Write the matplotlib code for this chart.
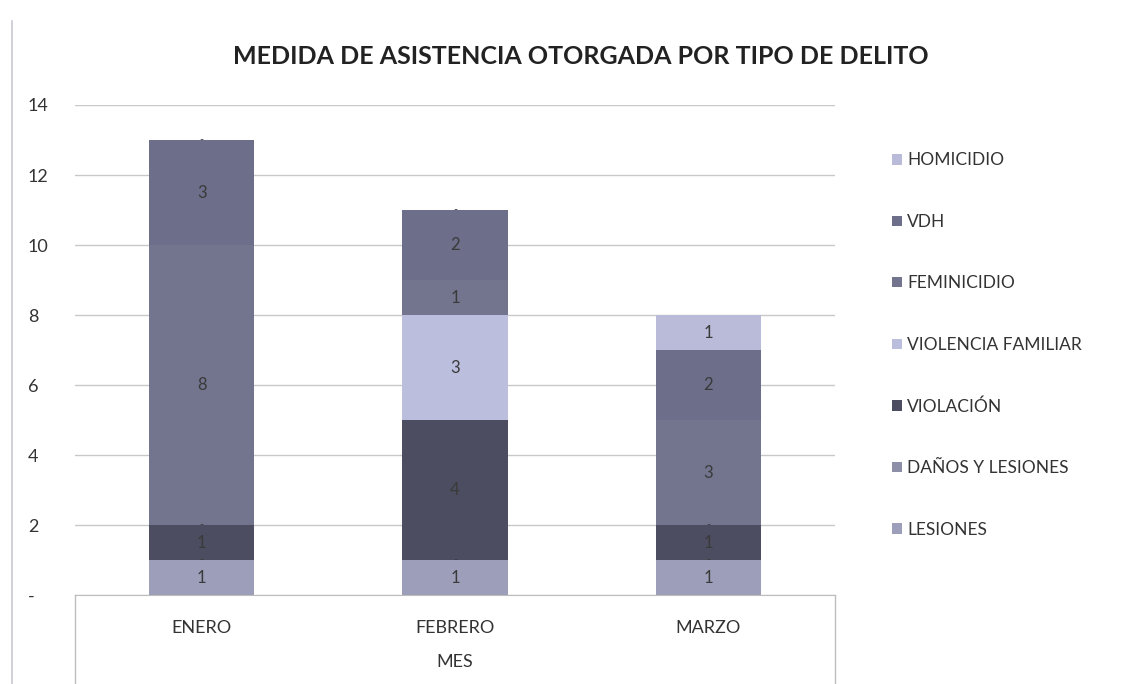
import numpy as np
import matplotlib.pyplot as plt
from matplotlib.patches import Patch
from matplotlib.lines import Line2D

plt.rcParams['font.family'] = ['Lato', 'DejaVu Sans']

meses = ['ENERO', 'FEBRERO', 'MARZO']
delitos = ['LESIONES', 'DAÑOS Y LESIONES', 'VIOLACIÓN', 'VIOLENCIA FAMILIAR',
           'FEMINICIDIO', 'VDH', 'HOMICIDIO']
lesiones = [1, 1, 1]
danos_lesiones = [0, 0, 0]
violacion = [1, 4, 1]
violencia_familiar = [0, 3, 0]
feminicidio = [8, 1, 3]
vdh = [3, 2, 2]
homicidio = [0, 0, 1]

series = [lesiones, danos_lesiones, violacion, violencia_familiar,
          feminicidio, vdh, homicidio]
colores = ['#9c9eba', '#8d8fa8', '#4c4d60', '#bcbedd',
           '#73758f', '#6c6e8a', '#b9bbd8']

fig = plt.figure(figsize=(11.27, 6.84), dpi=100)
ax = fig.add_axes([0.0665, 0.130, 0.6745, 0.7165])

x = np.arange(len(meses))
base = np.zeros(len(meses))
for vals, col in zip(series, colores):
    vals = np.array(vals, dtype=float)
    ax.bar(x, vals, width=0.415, bottom=base, color=col, zorder=2)
    for i, v in enumerate(vals):
        if v > 0:
            ax.text(x[i], base[i] + v / 2, '%d' % v, ha='center', va='center',
                    fontsize=12, color='#3a3a3a', zorder=3)
        else:
            ax.text(x[i], base[i], '-', ha='center', va='center',
                    fontsize=8, color='#3a3a3a', zorder=3)
    base += vals

ax.set_xlim(-0.5, 2.5)
ax.set_ylim(0, 14)
ax.set_yticks(range(0, 15, 2))
ax.set_yticklabels(['-'] + [str(v) for v in range(2, 15, 2)])
ax.set_xticks(x)
ax.set_xticklabels(meses)
ax.tick_params(axis='both', length=0, labelsize=13, colors='#333333')
ax.tick_params(axis='x', pad=18)
ax.tick_params(axis='y', pad=34)
for lbl in ax.get_yticklabels():
    lbl.set_horizontalalignment('left')
ax.yaxis.grid(True, color='#c8c8c8', linewidth=1, zorder=0)
for s in ['top', 'right', 'left']:
    ax.spines[s].set_visible(False)
ax.spines['bottom'].set_color('#bdbdbd')

# caja de categorias bajo el eje
for xx in [0.0, 1.0]:
    ax.add_line(Line2D([xx, xx], [0, -0.18], transform=ax.transAxes,
                       color='#bdbdbd', linewidth=1, clip_on=False))
ax.text(0.5, -0.137, 'MES', transform=ax.transAxes, ha='center', va='center',
        fontsize=13, color='#333333')

fig.text(0.515, 0.918, 'MEDIDA DE ASISTENCIA OTORGADA POR TIPO DE DELITO',
         ha='center', va='center', fontsize=18, fontweight='bold', color='#222222')

handles = [Patch(facecolor=c, edgecolor='none') for c in colores][::-1]
fig.legend(handles, delitos[::-1], loc='upper left', bbox_to_anchor=(0.778, 0.80),
           frameon=False, fontsize=12.5, labelspacing=2.62, handlelength=0.55,
           handleheight=0.55, handletextpad=0.3, labelcolor='#333333')

fig.add_artist(Line2D([0.011, 0.011], [0.0, 0.97], transform=fig.transFigure,
                      color='#c8c8d0', linewidth=1.2))

fig.savefig('out.png', dpi=100)
